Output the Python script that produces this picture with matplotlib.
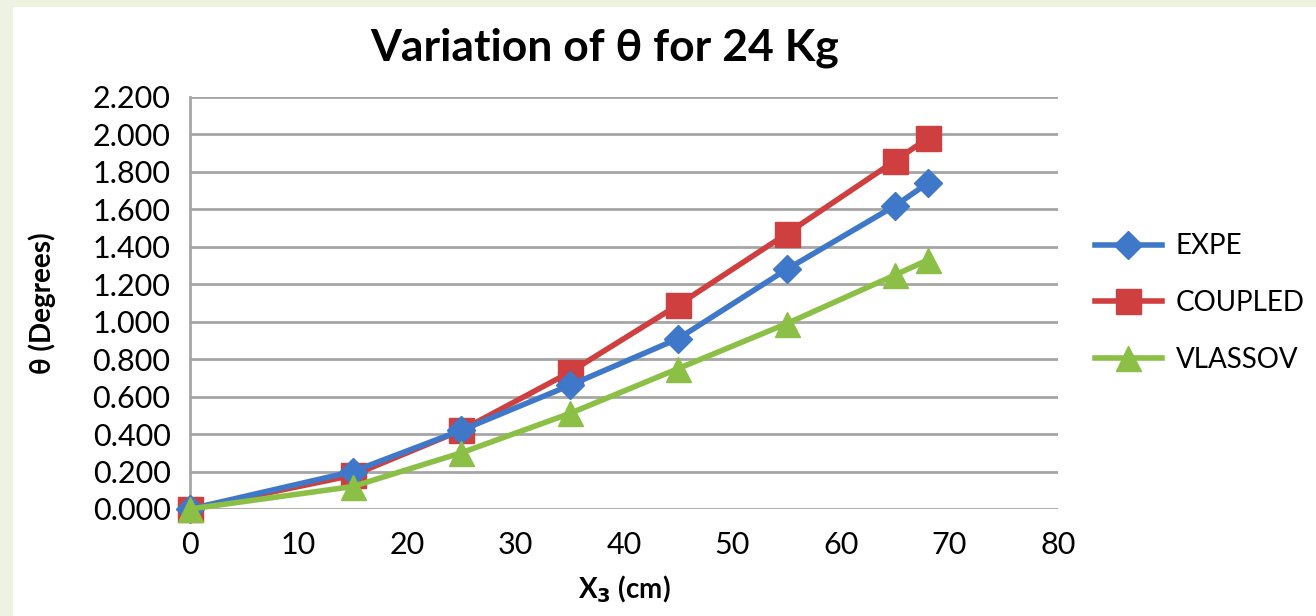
import matplotlib.pyplot as plt
import matplotlib.patches as mpatches

# Valores
x3 = [0, 15, 25, 35, 45, 55, 65, 68]
expe = [0.0, 0.20, 0.42, 0.66, 0.91, 1.28, 1.62, 1.74]
coupled = [0.0, 0.18, 0.42, 0.73, 1.09, 1.47, 1.86, 1.98]
vlassov = [0.0, 0.12, 0.30, 0.51, 0.75, 0.99, 1.25, 1.33]

yticks = [0.0, 0.2, 0.4, 0.6, 0.8, 1.0, 1.2, 1.4, 1.6, 1.8, 2.0, 2.2]
xticks = [0, 10, 20, 30, 40, 50, 60, 70, 80]

plt.rcParams['font.family'] = ['Lato', 'DejaVu Sans']

fig = plt.figure(figsize=(13.16, 6.16), dpi=100)
fig.patch.set_facecolor('white')
# faixas esverdeadas do slide (esquerda e topo)
fig.add_artist(mpatches.Rectangle((0, 0), 13/1316, 1, transform=fig.transFigure,
                                  facecolor='#eef2e1', edgecolor='none', zorder=-5))
fig.add_artist(mpatches.Rectangle((0, 1 - 7/616), 1, 7/616, transform=fig.transFigure,
                                  facecolor='#eef2e1', edgecolor='none', zorder=-5))

ax = fig.add_axes([190/1316, 1 - 509/616, 868/1316, 412/616])
ax.set_facecolor('white')

ax.plot(x3, expe, color='#3f78c8', lw=4, marker='D', ms=14, label='EXPE', zorder=3)
ax.plot(x3, coupled, color='#cf3f3f', lw=4, marker='s', ms=18, label='COUPLED', zorder=2)
ax.plot(x3, vlassov, color='#8cbf45', lw=4, marker='^', ms=18, label='VLASSOV', zorder=4)

ax.set_xlim(0, 80)
ax.set_ylim(0, 2.2)
ax.set_xticks(xticks)
ax.set_yticks(yticks)
ax.set_yticklabels(['{:.3f}'.format(v) for v in yticks])
ax.tick_params(length=0, labelsize=22)
ax.tick_params(axis='y', pad=14)
ax.tick_params(axis='x', pad=16)
ax.yaxis.grid(True, color='#a6a6a6', lw=2)
ax.set_axisbelow(True)
for s in ['top', 'right', 'bottom']:
    ax.spines[s].set_visible(False)
ax.spines['left'].set_color('#a6a6a6')
ax.spines['left'].set_linewidth(2)
for ln in ax.get_lines():
    ln.set_clip_on(False)

ax.set_title('Variation of θ for 24 Kg', fontsize=32, fontweight='bold', pad=26,
             x=(605 - 190) / 868)
ax.set_ylabel('θ (Degrees)', fontsize=20, fontweight='bold', labelpad=26)
ax.set_xlabel('X$_\\mathbf{3}$ (cm)', fontsize=20, fontweight='bold', labelpad=10)

ax.legend(loc='center left', bbox_to_anchor=(1.03, 0.5), frameon=False,
          fontsize=20, handlelength=2.4, handletextpad=0.5, labelspacing=1.1,
          borderaxespad=0)

fig.savefig('out.png', dpi=100, facecolor=fig.get_facecolor())
